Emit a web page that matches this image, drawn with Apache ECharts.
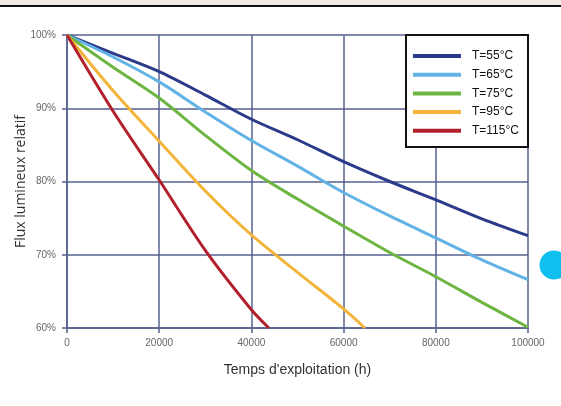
<!DOCTYPE html>
<html>
<head>
<meta charset="utf-8">
<style>
  html, body { margin: 0; padding: 0; background: #ffffff; }
  #chart { width: 561px; height: 406px; }
</style>
<script src="https://cdn.jsdelivr.net/npm/echarts@6/dist/echarts.min.js"></script>
</head>
<body>
<div id="chart"></div>
<script>
// Operating hours (x) for each temperature curve
var hours = [0, 10000, 20000, 30000, 40000, 50000, 60000, 70000, 80000, 90000, 100000];
var hours95 = [0, 10000, 20000, 30000, 40000, 50000, 60000, 64600];
var hours115 = [0, 10000, 20000, 30000, 40000, 43800];

// Relative luminous flux (%)
var flux55 = [100, 97.5, 95.0, 91.8, 88.5, 85.7, 82.7, 80.0, 77.5, 74.9, 72.6];
var flux65 = [100, 97.0, 93.6, 89.5, 85.6, 82.1, 78.5, 75.3, 72.3, 69.3, 66.6];
var flux75 = [100, 95.6, 91.4, 86.3, 81.5, 77.6, 73.9, 70.3, 67.0, 63.5, 60.1];
var flux95 = [100, 92.4, 85.5, 78.7, 72.7, 67.6, 62.6, 60.0];
var flux115 = [100, 89.6, 80.2, 70.6, 62.5, 60.0];

var seriesNames = ['T=55°C', 'T=65°C', 'T=75°C', 'T=95°C', 'T=115°C'];
var seriesColors = ['#2c3a8a', '#62b2e6', '#6db541', '#f3b43a', '#b3202d'];

function pairs(xs, ys) {
  return xs.map(function (x, i) { return [x, ys[i]]; });
}

var curves = [
  pairs(hours, flux55),
  pairs(hours, flux65),
  pairs(hours, flux75),
  pairs(hours95, flux95),
  pairs(hours115, flux115)
];

var gridColor = '#56608f';
var narrow = '"Liberation Sans Narrow", "Liberation Sans", sans-serif';

var chart = echarts.init(document.getElementById('chart'), null, { renderer: 'canvas' });

chart.setOption({
  animation: false,
  backgroundColor: '#ffffff',
  grid: { left: 67, right: 33, top: 35, bottom: 78 },
  xAxis: {
    type: 'value',
    min: 0,
    max: 100000,
    interval: 20000,
    name: "Temps d'exploitation (h)",
    nameLocation: 'middle',
    nameGap: 35,
    nameMoveOverlap: false,
    nameTextStyle: { fontSize: 14, color: '#333', fontFamily: narrow },
    axisLine: { show: true, lineStyle: { color: gridColor, width: 1.5 } },
    axisTick: { show: true, length: 5, lineStyle: { color: gridColor, width: 1.5 } },
    axisLabel: { fontSize: 10, color: '#666', margin: 10, fontFamily: narrow,
      formatter: function (v) { return String(v); } },
    splitLine: { show: true, lineStyle: { color: gridColor, width: 1.5 } }
  },
  yAxis: {
    type: 'value',
    min: 60,
    max: 100,
    interval: 10,
    name: 'Flux lumineux relatif',
    nameLocation: 'middle',
    nameGap: 39,
    nameMoveOverlap: false,
    nameTextStyle: { fontSize: 14, color: '#333', fontFamily: '"Open Sans", sans-serif' },
    axisLine: { show: true, lineStyle: { color: gridColor, width: 1.5 } },
    axisTick: { show: true, length: 5, lineStyle: { color: gridColor, width: 1.5 } },
    axisLabel: { fontSize: 10, color: '#666', margin: 11, fontFamily: narrow, formatter: '{value}%' },
    splitLine: { show: true, lineStyle: { color: gridColor, width: 1.5 } }
  },
  legend: {
    orient: 'vertical',
    left: 413,
    top: 49,
    padding: 0,
    icon: 'rect',
    itemWidth: 48,
    itemHeight: 4,
    itemGap: 4.7,
    z: 200,
    textStyle: { fontSize: 12, lineHeight: 14, color: '#111', fontFamily: narrow, padding: [0, 0, 0, 6] },
    data: seriesNames
  },
  graphic: [
    { type: 'rect', shape: { x: 0, y: 0, width: 561, height: 5 }, style: { fill: '#efebe2' }, z: 1 },
    { type: 'rect', shape: { x: 0, y: 5, width: 561, height: 2 }, style: { fill: '#111111' }, z: 1 },
    { type: 'circle', shape: { cx: 554, cy: 265, r: 14.5 }, style: { fill: '#0ebff0' }, z: 1 },
    { type: 'rect', shape: { x: 406, y: 35, width: 122, height: 112 },
      style: { fill: '#ffffff', stroke: '#111111', lineWidth: 2 }, z: 100 }
  ],
  series: curves.map(function (data, i) {
    return {
      name: seriesNames[i],
      type: 'line',
      data: data,
      smooth: 0.3,
      showSymbol: false,
      color: seriesColors[i],
      lineStyle: { width: 3, color: seriesColors[i] }
    };
  })
});
</script>
</body>
</html>
